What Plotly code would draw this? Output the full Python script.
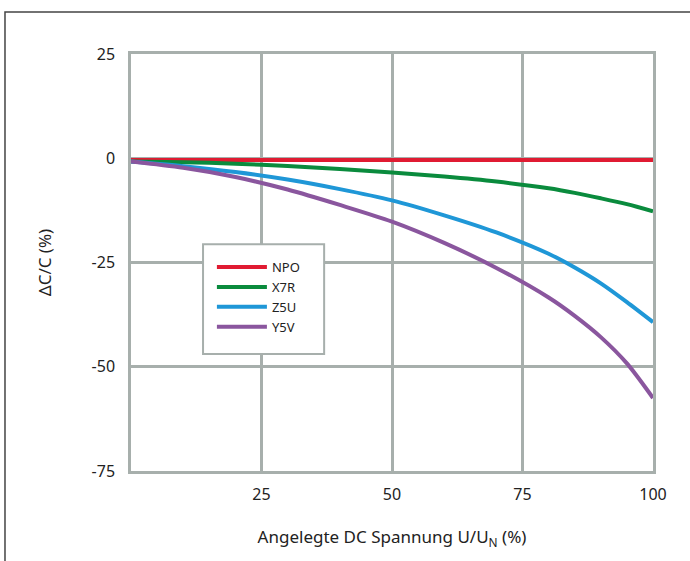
import plotly.graph_objects as go

# Data
x_vals = [0, 10, 20, 30, 40, 50, 60, 70, 80, 85, 90, 95, 100]
npo = [-0.4, -0.4, -0.4, -0.4, -0.4, -0.4, -0.4, -0.4, -0.4, -0.4, -0.4, -0.4, -0.4]
x7r = [-0.8, -0.95, -1.3, -1.85, -2.6, -3.4, -4.4, -5.6, -7.2, -8.3, -9.6, -11.0, -12.7]
z5u = [-0.8, -1.9, -3.3, -5.1, -7.4, -10.1, -13.7, -17.8, -22.9, -26.2, -30.0, -34.5, -39.3]
y5v = [-0.8, -2.3, -4.5, -7.5, -11.2, -15.2, -20.3, -26.3, -33.4, -37.8, -42.9, -49.2, -57.5]

series_names = ["NPO", "X7R", "Z5U", "Y5V"]
series_values = [npo, x7r, z5u, y5v]
colors = ["#e01b32", "#0a8b3d", "#1f97d7", "#8a569e"]

x_ticks = [25, 50, 75, 100]
y_ticks = [-75, -50, -25, 0, 25]

grid_col = "#a7afac"
font_family = "Noto Sans, Open Sans, sans-serif"

fig = go.Figure()
for name, vals, col in zip(series_names, series_values, colors):
    fig.add_trace(go.Scatter(
        x=x_vals, y=vals, name=name, mode="lines",
        line=dict(color=col, width=4, shape="spline", smoothing=0.8),
    ))

fig.update_layout(
    width=690, height=561,
    margin=dict(l=131, r=37, t=54, b=90),
    paper_bgcolor="white", plot_bgcolor="white",
    font=dict(family=font_family, size=16, color="#222"),
    showlegend=True,
    legend=dict(
        x=0.155, y=0.525, xanchor="left", yanchor="top",
        bgcolor="rgba(0,0,0,0)", borderwidth=0,
        font=dict(size=13, color="#222"),
        itemwidth=50, tracegroupgap=0,
    ),
    shapes=[
        dict(
            type="rect", xref="paper", yref="paper",
            x0=-0.2414, x1=1.2, y0=-0.3, y1=1.1007,
            line=dict(color="#444", width=1.5), fillcolor="rgba(0,0,0,0)",
            layer="below",
        ),
        dict(
            type="rect", xref="paper", yref="paper",
            x0=0.138, x1=0.370, y0=0.2806, y1=0.544,
            line=dict(color=grid_col, width=2), fillcolor="white",
            layer="above",
        ),
    ],
)

fig.update_xaxes(
    range=[0, 100], tickvals=x_ticks, ticktext=[str(v) for v in x_ticks],
    showgrid=True, gridcolor=grid_col, gridwidth=2.5,
    showline=True, linecolor=grid_col, linewidth=2.5, mirror=True,
    zeroline=False, ticks="", ticklabelstandoff=7,
    title=dict(text="Angelegte DC Spannung U/U<sub>N</sub> (%)",
               font=dict(size=17), standoff=28),
    tickfont=dict(size=16),
)
fig.update_yaxes(
    range=[-75, 25], tickvals=y_ticks, ticktext=[str(v) for v in y_ticks],
    showgrid=True, gridcolor=grid_col, gridwidth=2.5,
    showline=True, linecolor=grid_col, linewidth=2.5, mirror=True,
    zeroline=False, ticks="", ticklabelstandoff=10,
    title=dict(text="ΔC/C (%)", font=dict(size=17), standoff=36),
    tickfont=dict(size=16),
)

fig.write_html("out.html", config={"displayModeBar": False},
               post_script="document.body.style.margin='0px';")
